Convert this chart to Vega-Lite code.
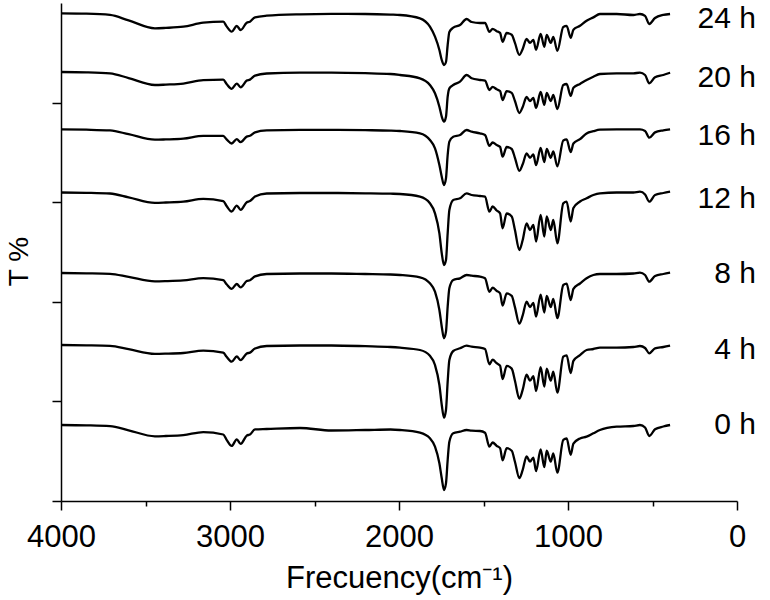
{
"$schema": "https://vega.github.io/schema/vega-lite/v6.json",
"width": 676, "height": 498,
"autosize": {"type": "none"},
"padding": {"left": 61, "top": 3, "right": 33, "bottom": 99},
"background": "white",
"config": {"view": {"stroke": null}, "font": "Liberation Sans",
 "axis": {"domainColor": "black", "tickColor": "black", "labelColor": "black", "titleColor": "black", "domainWidth": 1.5, "tickWidth": 1.5, "grid": false}},
"datasets": {
"spectra": [
{"s":"24 h","w":4000,"T":487.6},{"s":"24 h","w":3850,"T":487.3},{"s":"24 h","w":3710,"T":486.1},{"s":"24 h","w":3600,"T":480.6},{"s":"24 h","w":3444,"T":472.7},{"s":"24 h","w":3380,"T":473.1},{"s":"24 h","w":3276,"T":474.3},{"s":"24 h","w":3158,"T":478.3},{"s":"24 h","w":3040,"T":479.3},{"s":"24 h","w":3020,"T":474.6},{"s":"24 h","w":2990,"T":469.3},{"s":"24 h","w":2960,"T":475.0},{"s":"24 h","w":2937,"T":471.0},{"s":"24 h","w":2901,"T":478.3},{"s":"24 h","w":2882,"T":479.3},{"s":"24 h","w":2852,"T":483.7},{"s":"24 h","w":2783,"T":485.3},{"s":"24 h","w":2586,"T":486.7},{"s":"24 h","w":2400,"T":487.1},{"s":"24 h","w":2200,"T":487.0},{"s":"24 h","w":2050,"T":486.4},{"s":"24 h","w":1994,"T":486.0},{"s":"24 h","w":1876,"T":482.7},{"s":"24 h","w":1817,"T":474.3},{"s":"24 h","w":1787,"T":464.3},{"s":"24 h","w":1761,"T":451.0},{"s":"24 h","w":1747,"T":441.0},{"s":"24 h","w":1734,"T":436.0},{"s":"24 h","w":1722,"T":439.0},{"s":"24 h","w":1712,"T":456.0},{"s":"24 h","w":1702,"T":469.0},{"s":"24 h","w":1679,"T":473.3},{"s":"24 h","w":1639,"T":476.0},{"s":"24 h","w":1600,"T":482.0},{"s":"24 h","w":1570,"T":479.0},{"s":"24 h","w":1521,"T":478.0},{"s":"24 h","w":1491,"T":478.0},{"s":"24 h","w":1465,"T":469.1},{"s":"24 h","w":1446,"T":472.2},{"s":"24 h","w":1422,"T":469.8},{"s":"24 h","w":1402,"T":468.1},{"s":"24 h","w":1387,"T":459.1},{"s":"24 h","w":1363,"T":468.0},{"s":"24 h","w":1333,"T":466.2},{"s":"24 h","w":1314,"T":458.1},{"s":"24 h","w":1288,"T":446.1},{"s":"24 h","w":1268,"T":452.1},{"s":"24 h","w":1245,"T":462.1},{"s":"24 h","w":1225,"T":458.1},{"s":"24 h","w":1205,"T":461.1},{"s":"24 h","w":1189,"T":451.2},{"s":"24 h","w":1162,"T":467.1},{"s":"24 h","w":1140,"T":454.2},{"s":"24 h","w":1126,"T":466.2},{"s":"24 h","w":1102,"T":458.1},{"s":"24 h","w":1087,"T":464.1},{"s":"24 h","w":1063,"T":450.1},{"s":"24 h","w":1028,"T":474.1},{"s":"24 h","w":1008,"T":475.1},{"s":"24 h","w":984,"T":463.2},{"s":"24 h","w":968,"T":471.3},{"s":"24 h","w":929,"T":475.2},{"s":"24 h","w":890,"T":480.3},{"s":"24 h","w":850,"T":483.6},{"s":"24 h","w":811,"T":487.0},{"s":"24 h","w":712,"T":487.0},{"s":"24 h","w":613,"T":486.0},{"s":"24 h","w":574,"T":487.0},{"s":"24 h","w":544,"T":485.1},{"s":"24 h","w":519,"T":477.0},{"s":"24 h","w":485,"T":483.0},{"s":"24 h","w":436,"T":486.1},{"s":"24 h","w":396,"T":487.0},
{"s":"20 h","w":4000,"T":429.0},{"s":"20 h","w":3850,"T":428.7},{"s":"20 h","w":3710,"T":427.7},{"s":"20 h","w":3600,"T":422.9},{"s":"20 h","w":3444,"T":416.0},{"s":"20 h","w":3380,"T":416.4},{"s":"20 h","w":3276,"T":417.4},{"s":"20 h","w":3158,"T":420.9},{"s":"20 h","w":3040,"T":421.4},{"s":"20 h","w":3020,"T":417.0},{"s":"20 h","w":2990,"T":412.2},{"s":"20 h","w":2960,"T":417.4},{"s":"20 h","w":2937,"T":413.7},{"s":"20 h","w":2901,"T":420.4},{"s":"20 h","w":2882,"T":421.4},{"s":"20 h","w":2852,"T":425.4},{"s":"20 h","w":2783,"T":427.5},{"s":"20 h","w":2586,"T":428.3},{"s":"20 h","w":2400,"T":428.3},{"s":"20 h","w":2200,"T":427.8},{"s":"20 h","w":2050,"T":427.0},{"s":"20 h","w":1994,"T":426.0},{"s":"20 h","w":1876,"T":422.7},{"s":"20 h","w":1817,"T":416.0},{"s":"20 h","w":1787,"T":407.7},{"s":"20 h","w":1761,"T":394.3},{"s":"20 h","w":1747,"T":384.3},{"s":"20 h","w":1734,"T":379.3},{"s":"20 h","w":1722,"T":384.3},{"s":"20 h","w":1712,"T":404.3},{"s":"20 h","w":1702,"T":412.7},{"s":"20 h","w":1679,"T":416.0},{"s":"20 h","w":1639,"T":419.3},{"s":"20 h","w":1600,"T":426.0},{"s":"20 h","w":1570,"T":422.7},{"s":"20 h","w":1521,"T":421.0},{"s":"20 h","w":1491,"T":420.3},{"s":"20 h","w":1465,"T":411.0},{"s":"20 h","w":1446,"T":414.1},{"s":"20 h","w":1422,"T":411.7},{"s":"20 h","w":1402,"T":410.0},{"s":"20 h","w":1387,"T":401.0},{"s":"20 h","w":1363,"T":409.9},{"s":"20 h","w":1333,"T":408.1},{"s":"20 h","w":1314,"T":400.0},{"s":"20 h","w":1288,"T":388.0},{"s":"20 h","w":1268,"T":394.0},{"s":"20 h","w":1245,"T":404.0},{"s":"20 h","w":1225,"T":400.0},{"s":"20 h","w":1205,"T":403.0},{"s":"20 h","w":1189,"T":393.1},{"s":"20 h","w":1162,"T":409.0},{"s":"20 h","w":1140,"T":396.1},{"s":"20 h","w":1126,"T":408.1},{"s":"20 h","w":1102,"T":400.0},{"s":"20 h","w":1087,"T":406.0},{"s":"20 h","w":1063,"T":392.0},{"s":"20 h","w":1028,"T":416.0},{"s":"20 h","w":1008,"T":417.0},{"s":"20 h","w":984,"T":405.1},{"s":"20 h","w":968,"T":413.2},{"s":"20 h","w":929,"T":417.1},{"s":"20 h","w":890,"T":421.0},{"s":"20 h","w":850,"T":424.3},{"s":"20 h","w":811,"T":427.0},{"s":"20 h","w":712,"T":427.7},{"s":"20 h","w":613,"T":427.7},{"s":"20 h","w":574,"T":428.3},{"s":"20 h","w":544,"T":426.0},{"s":"20 h","w":519,"T":417.7},{"s":"20 h","w":485,"T":423.7},{"s":"20 h","w":436,"T":426.0},{"s":"20 h","w":396,"T":428.3},
{"s":"16 h","w":4000,"T":371.6},{"s":"16 h","w":3850,"T":371.3},{"s":"16 h","w":3710,"T":370.6},{"s":"16 h","w":3600,"T":366.8},{"s":"16 h","w":3444,"T":361.3},{"s":"16 h","w":3380,"T":361.6},{"s":"16 h","w":3276,"T":362.4},{"s":"16 h","w":3158,"T":365.2},{"s":"16 h","w":3040,"T":365.2},{"s":"16 h","w":3020,"T":361.6},{"s":"16 h","w":2990,"T":357.5},{"s":"16 h","w":2960,"T":361.9},{"s":"16 h","w":2937,"T":358.8},{"s":"16 h","w":2901,"T":364.4},{"s":"16 h","w":2882,"T":365.2},{"s":"16 h","w":2852,"T":368.6},{"s":"16 h","w":2783,"T":370.6},{"s":"16 h","w":2586,"T":371.1},{"s":"16 h","w":2400,"T":371.1},{"s":"16 h","w":2200,"T":370.8},{"s":"16 h","w":2050,"T":370.4},{"s":"16 h","w":1994,"T":370.0},{"s":"16 h","w":1876,"T":367.7},{"s":"16 h","w":1817,"T":361.0},{"s":"16 h","w":1787,"T":352.7},{"s":"16 h","w":1761,"T":336.0},{"s":"16 h","w":1747,"T":324.3},{"s":"16 h","w":1734,"T":316.0},{"s":"16 h","w":1722,"T":322.7},{"s":"16 h","w":1712,"T":346.0},{"s":"16 h","w":1702,"T":359.3},{"s":"16 h","w":1679,"T":364.3},{"s":"16 h","w":1639,"T":366.0},{"s":"16 h","w":1600,"T":371.0},{"s":"16 h","w":1570,"T":369.3},{"s":"16 h","w":1521,"T":367.7},{"s":"16 h","w":1491,"T":366.0},{"s":"16 h","w":1465,"T":355.1},{"s":"16 h","w":1446,"T":358.5},{"s":"16 h","w":1422,"T":355.9},{"s":"16 h","w":1402,"T":354.1},{"s":"16 h","w":1387,"T":344.3},{"s":"16 h","w":1363,"T":354.0},{"s":"16 h","w":1333,"T":352.0},{"s":"16 h","w":1314,"T":343.2},{"s":"16 h","w":1288,"T":330.2},{"s":"16 h","w":1268,"T":336.7},{"s":"16 h","w":1245,"T":347.6},{"s":"16 h","w":1225,"T":343.2},{"s":"16 h","w":1205,"T":346.5},{"s":"16 h","w":1189,"T":335.8},{"s":"16 h","w":1162,"T":353.0},{"s":"16 h","w":1140,"T":339.0},{"s":"16 h","w":1126,"T":352.0},{"s":"16 h","w":1102,"T":343.2},{"s":"16 h","w":1087,"T":349.7},{"s":"16 h","w":1063,"T":334.6},{"s":"16 h","w":1028,"T":360.6},{"s":"16 h","w":1008,"T":361.6},{"s":"16 h","w":984,"T":348.8},{"s":"16 h","w":968,"T":357.5},{"s":"16 h","w":929,"T":361.8},{"s":"16 h","w":890,"T":367.6},{"s":"16 h","w":850,"T":369.8},{"s":"16 h","w":811,"T":371.3},{"s":"16 h","w":712,"T":371.6},{"s":"16 h","w":613,"T":371.6},{"s":"16 h","w":574,"T":371.6},{"s":"16 h","w":544,"T":370.1},{"s":"16 h","w":519,"T":363.3},{"s":"16 h","w":485,"T":368.6},{"s":"16 h","w":436,"T":370.6},{"s":"16 h","w":396,"T":371.6},
{"s":"12 h","w":4000,"T":308.5},{"s":"12 h","w":3850,"T":308.2},{"s":"12 h","w":3710,"T":307.5},{"s":"12 h","w":3600,"T":303.7},{"s":"12 h","w":3444,"T":298.2},{"s":"12 h","w":3380,"T":298.5},{"s":"12 h","w":3276,"T":299.3},{"s":"12 h","w":3158,"T":302.1},{"s":"12 h","w":3040,"T":299.9},{"s":"12 h","w":3020,"T":295.0},{"s":"12 h","w":2990,"T":289.5},{"s":"12 h","w":2960,"T":295.4},{"s":"12 h","w":2937,"T":291.2},{"s":"12 h","w":2901,"T":298.8},{"s":"12 h","w":2882,"T":299.9},{"s":"12 h","w":2852,"T":304.4},{"s":"12 h","w":2783,"T":307.5},{"s":"12 h","w":2586,"T":308.0},{"s":"12 h","w":2400,"T":308.0},{"s":"12 h","w":2200,"T":307.7},{"s":"12 h","w":2050,"T":307.3},{"s":"12 h","w":1994,"T":307.0},{"s":"12 h","w":1876,"T":304.3},{"s":"12 h","w":1817,"T":297.7},{"s":"12 h","w":1787,"T":287.7},{"s":"12 h","w":1761,"T":267.7},{"s":"12 h","w":1747,"T":247.7},{"s":"12 h","w":1734,"T":236.0},{"s":"12 h","w":1722,"T":241.0},{"s":"12 h","w":1712,"T":267.7},{"s":"12 h","w":1702,"T":291.0},{"s":"12 h","w":1679,"T":301.0},{"s":"12 h","w":1639,"T":302.7},{"s":"12 h","w":1600,"T":307.7},{"s":"12 h","w":1570,"T":306.0},{"s":"12 h","w":1521,"T":305.0},{"s":"12 h","w":1491,"T":304.3},{"s":"12 h","w":1465,"T":289.3},{"s":"12 h","w":1446,"T":294.5},{"s":"12 h","w":1422,"T":290.5},{"s":"12 h","w":1402,"T":287.7},{"s":"12 h","w":1387,"T":272.7},{"s":"12 h","w":1363,"T":287.5},{"s":"12 h","w":1333,"T":284.5},{"s":"12 h","w":1314,"T":271.0},{"s":"12 h","w":1288,"T":251.0},{"s":"12 h","w":1268,"T":261.0},{"s":"12 h","w":1245,"T":277.7},{"s":"12 h","w":1225,"T":271.0},{"s":"12 h","w":1205,"T":276.0},{"s":"12 h","w":1189,"T":259.5},{"s":"12 h","w":1162,"T":286.0},{"s":"12 h","w":1140,"T":264.5},{"s":"12 h","w":1126,"T":284.5},{"s":"12 h","w":1102,"T":271.0},{"s":"12 h","w":1087,"T":281.0},{"s":"12 h","w":1063,"T":257.7},{"s":"12 h","w":1028,"T":297.7},{"s":"12 h","w":1008,"T":299.3},{"s":"12 h","w":984,"T":279.5},{"s":"12 h","w":968,"T":293.0},{"s":"12 h","w":929,"T":299.5},{"s":"12 h","w":890,"T":302.7},{"s":"12 h","w":850,"T":306.0},{"s":"12 h","w":811,"T":307.7},{"s":"12 h","w":712,"T":308.5},{"s":"12 h","w":613,"T":308.5},{"s":"12 h","w":574,"T":309.3},{"s":"12 h","w":544,"T":306.5},{"s":"12 h","w":519,"T":299.3},{"s":"12 h","w":485,"T":306.0},{"s":"12 h","w":436,"T":308.0},{"s":"12 h","w":396,"T":309.3},
{"s":"8 h","w":4000,"T":228.0},{"s":"8 h","w":3850,"T":227.7},{"s":"8 h","w":3710,"T":227.2},{"s":"8 h","w":3600,"T":224.1},{"s":"8 h","w":3444,"T":219.7},{"s":"8 h","w":3380,"T":219.9},{"s":"8 h","w":3276,"T":220.6},{"s":"8 h","w":3158,"T":222.8},{"s":"8 h","w":3040,"T":220.8},{"s":"8 h","w":3020,"T":216.7},{"s":"8 h","w":2990,"T":212.1},{"s":"8 h","w":2960,"T":217.0},{"s":"8 h","w":2937,"T":213.6},{"s":"8 h","w":2901,"T":219.9},{"s":"8 h","w":2882,"T":220.8},{"s":"8 h","w":2852,"T":224.6},{"s":"8 h","w":2783,"T":227.0},{"s":"8 h","w":2586,"T":227.5},{"s":"8 h","w":2400,"T":227.5},{"s":"8 h","w":2200,"T":227.0},{"s":"8 h","w":2050,"T":226.5},{"s":"8 h","w":1994,"T":226.0},{"s":"8 h","w":1876,"T":223.7},{"s":"8 h","w":1817,"T":217.7},{"s":"8 h","w":1787,"T":209.3},{"s":"8 h","w":1761,"T":191.0},{"s":"8 h","w":1747,"T":174.3},{"s":"8 h","w":1734,"T":162.7},{"s":"8 h","w":1722,"T":169.3},{"s":"8 h","w":1712,"T":194.3},{"s":"8 h","w":1702,"T":212.7},{"s":"8 h","w":1679,"T":221.0},{"s":"8 h","w":1639,"T":222.7},{"s":"8 h","w":1600,"T":226.0},{"s":"8 h","w":1570,"T":225.3},{"s":"8 h","w":1521,"T":224.3},{"s":"8 h","w":1491,"T":222.7},{"s":"8 h","w":1465,"T":209.1},{"s":"8 h","w":1446,"T":213.4},{"s":"8 h","w":1422,"T":210.1},{"s":"8 h","w":1402,"T":207.7},{"s":"8 h","w":1387,"T":195.3},{"s":"8 h","w":1363,"T":207.6},{"s":"8 h","w":1333,"T":205.1},{"s":"8 h","w":1314,"T":193.9},{"s":"8 h","w":1288,"T":177.3},{"s":"8 h","w":1268,"T":185.6},{"s":"8 h","w":1245,"T":199.4},{"s":"8 h","w":1225,"T":193.9},{"s":"8 h","w":1205,"T":198.0},{"s":"8 h","w":1189,"T":184.3},{"s":"8 h","w":1162,"T":206.3},{"s":"8 h","w":1140,"T":188.5},{"s":"8 h","w":1126,"T":205.1},{"s":"8 h","w":1102,"T":193.9},{"s":"8 h","w":1087,"T":202.2},{"s":"8 h","w":1063,"T":182.8},{"s":"8 h","w":1028,"T":216.0},{"s":"8 h","w":1008,"T":217.4},{"s":"8 h","w":984,"T":200.9},{"s":"8 h","w":968,"T":212.1},{"s":"8 h","w":929,"T":217.5},{"s":"8 h","w":890,"T":222.7},{"s":"8 h","w":850,"T":226.0},{"s":"8 h","w":811,"T":227.0},{"s":"8 h","w":712,"T":227.0},{"s":"8 h","w":613,"T":227.5},{"s":"8 h","w":574,"T":228.3},{"s":"8 h","w":544,"T":226.0},{"s":"8 h","w":519,"T":219.3},{"s":"8 h","w":485,"T":225.0},{"s":"8 h","w":436,"T":227.0},{"s":"8 h","w":396,"T":228.3},
{"s":"4 h","w":4000,"T":156.0},{"s":"4 h","w":3850,"T":155.7},{"s":"4 h","w":3710,"T":155.1},{"s":"4 h","w":3600,"T":151.8},{"s":"4 h","w":3444,"T":147.1},{"s":"4 h","w":3380,"T":147.3},{"s":"4 h","w":3276,"T":148.0},{"s":"4 h","w":3158,"T":150.4},{"s":"4 h","w":3040,"T":148.4},{"s":"4 h","w":3020,"T":144.2},{"s":"4 h","w":2990,"T":139.3},{"s":"4 h","w":2960,"T":144.5},{"s":"4 h","w":2937,"T":140.9},{"s":"4 h","w":2901,"T":147.5},{"s":"4 h","w":2882,"T":148.4},{"s":"4 h","w":2852,"T":152.5},{"s":"4 h","w":2783,"T":155.0},{"s":"4 h","w":2586,"T":155.5},{"s":"4 h","w":2400,"T":155.5},{"s":"4 h","w":2200,"T":154.8},{"s":"4 h","w":2050,"T":154.0},{"s":"4 h","w":1994,"T":153.3},{"s":"4 h","w":1876,"T":151.0},{"s":"4 h","w":1817,"T":145.3},{"s":"4 h","w":1787,"T":136.0},{"s":"4 h","w":1761,"T":116.0},{"s":"4 h","w":1747,"T":96.0},{"s":"4 h","w":1734,"T":83.3},{"s":"4 h","w":1722,"T":91.0},{"s":"4 h","w":1712,"T":119.3},{"s":"4 h","w":1702,"T":141.0},{"s":"4 h","w":1679,"T":150.0},{"s":"4 h","w":1639,"T":152.7},{"s":"4 h","w":1600,"T":155.3},{"s":"4 h","w":1570,"T":154.3},{"s":"4 h","w":1521,"T":153.3},{"s":"4 h","w":1491,"T":152.0},{"s":"4 h","w":1465,"T":136.7},{"s":"4 h","w":1446,"T":141.4},{"s":"4 h","w":1422,"T":137.8},{"s":"4 h","w":1402,"T":135.3},{"s":"4 h","w":1387,"T":121.8},{"s":"4 h","w":1363,"T":135.1},{"s":"4 h","w":1333,"T":132.4},{"s":"4 h","w":1314,"T":120.3},{"s":"4 h","w":1288,"T":102.3},{"s":"4 h","w":1268,"T":111.3},{"s":"4 h","w":1245,"T":126.3},{"s":"4 h","w":1225,"T":120.3},{"s":"4 h","w":1205,"T":124.8},{"s":"4 h","w":1189,"T":109.9},{"s":"4 h","w":1162,"T":133.8},{"s":"4 h","w":1140,"T":114.4},{"s":"4 h","w":1126,"T":132.4},{"s":"4 h","w":1102,"T":120.3},{"s":"4 h","w":1087,"T":129.3},{"s":"4 h","w":1063,"T":108.3},{"s":"4 h","w":1028,"T":144.3},{"s":"4 h","w":1008,"T":145.7},{"s":"4 h","w":984,"T":127.9},{"s":"4 h","w":968,"T":140.1},{"s":"4 h","w":929,"T":145.9},{"s":"4 h","w":890,"T":151.0},{"s":"4 h","w":850,"T":152.0},{"s":"4 h","w":811,"T":153.3},{"s":"4 h","w":712,"T":153.3},{"s":"4 h","w":613,"T":154.0},{"s":"4 h","w":574,"T":155.0},{"s":"4 h","w":544,"T":153.0},{"s":"4 h","w":519,"T":147.7},{"s":"4 h","w":485,"T":152.7},{"s":"4 h","w":436,"T":154.0},{"s":"4 h","w":396,"T":155.3},
{"s":"0 h","w":4000,"T":76.0},{"s":"0 h","w":3850,"T":75.7},{"s":"0 h","w":3710,"T":74.9},{"s":"0 h","w":3600,"T":70.7},{"s":"0 h","w":3444,"T":64.7},{"s":"0 h","w":3380,"T":65.0},{"s":"0 h","w":3276,"T":65.9},{"s":"0 h","w":3158,"T":68.9},{"s":"0 h","w":3040,"T":66.5},{"s":"0 h","w":3020,"T":61.2},{"s":"0 h","w":2990,"T":55.1},{"s":"0 h","w":2960,"T":61.6},{"s":"0 h","w":2937,"T":57.1},{"s":"0 h","w":2901,"T":65.4},{"s":"0 h","w":2882,"T":66.5},{"s":"0 h","w":2852,"T":71.6},{"s":"0 h","w":2783,"T":72.0},{"s":"0 h","w":2586,"T":73.0},{"s":"0 h","w":2400,"T":70.5},{"s":"0 h","w":2200,"T":71.0},{"s":"0 h","w":2050,"T":71.5},{"s":"0 h","w":1994,"T":71.0},{"s":"0 h","w":1876,"T":68.3},{"s":"0 h","w":1817,"T":62.7},{"s":"0 h","w":1787,"T":54.3},{"s":"0 h","w":1761,"T":37.7},{"s":"0 h","w":1747,"T":22.7},{"s":"0 h","w":1734,"T":11.0},{"s":"0 h","w":1722,"T":17.7},{"s":"0 h","w":1712,"T":41.0},{"s":"0 h","w":1702,"T":59.3},{"s":"0 h","w":1679,"T":67.7},{"s":"0 h","w":1639,"T":69.3},{"s":"0 h","w":1600,"T":71.0},{"s":"0 h","w":1570,"T":70.3},{"s":"0 h","w":1521,"T":70.0},{"s":"0 h","w":1491,"T":68.3},{"s":"0 h","w":1465,"T":54.3},{"s":"0 h","w":1446,"T":58.5},{"s":"0 h","w":1422,"T":55.2},{"s":"0 h","w":1402,"T":52.9},{"s":"0 h","w":1387,"T":40.6},{"s":"0 h","w":1363,"T":52.8},{"s":"0 h","w":1333,"T":50.3},{"s":"0 h","w":1314,"T":39.3},{"s":"0 h","w":1288,"T":22.9},{"s":"0 h","w":1268,"T":31.1},{"s":"0 h","w":1245,"T":44.7},{"s":"0 h","w":1225,"T":39.3},{"s":"0 h","w":1205,"T":43.4},{"s":"0 h","w":1189,"T":29.8},{"s":"0 h","w":1162,"T":51.6},{"s":"0 h","w":1140,"T":33.9},{"s":"0 h","w":1126,"T":50.3},{"s":"0 h","w":1102,"T":39.3},{"s":"0 h","w":1087,"T":47.5},{"s":"0 h","w":1063,"T":28.3},{"s":"0 h","w":1028,"T":61.1},{"s":"0 h","w":1008,"T":62.5},{"s":"0 h","w":984,"T":46.2},{"s":"0 h","w":968,"T":57.3},{"s":"0 h","w":929,"T":62.6},{"s":"0 h","w":890,"T":64.3},{"s":"0 h","w":850,"T":67.7},{"s":"0 h","w":811,"T":71.0},{"s":"0 h","w":712,"T":74.3},{"s":"0 h","w":613,"T":75.0},{"s":"0 h","w":574,"T":76.0},{"s":"0 h","w":544,"T":73.5},{"s":"0 h","w":519,"T":65.0},{"s":"0 h","w":485,"T":71.7},{"s":"0 h","w":436,"T":74.5},{"s":"0 h","w":396,"T":76.0}
],
"labels": [
{"label":"24 h","w":-112,"T":482},{"label":"20 h","w":-112,"T":423},{"label":"16 h","w":-112,"T":365},{"label":"12 h","w":-112,"T":302},{"label":"8 h","w":-112,"T":227},{"label":"4 h","w":-112,"T":151},{"label":"0 h","w":-112,"T":76}
]
},
"layer": [
{"data": {"name": "spectra"},
 "mark": {"type": "line", "color": "black", "strokeWidth": 2.3, "interpolate": "monotone"},
 "encoding": {
  "x": {"field": "w", "type": "quantitative",
   "scale": {"domain": [0, 4000], "reverse": true, "nice": false},
   "axis": {"values": [4000,3500,3000,2500,2000,1500,1000,500,0], "format": "d",
    "labelExpr": "datum.value % 1000 === 0 ? datum.label : ''",
    "tickSize": {"condition": {"test": "datum.value % 1000 === 0", "value": 9}, "value": 5},
    "labelFontSize": 31, "labelPadding": 12, "labelOverlap": false, "labelFlush": false,
    "title": "Frecuency(cm⁻¹)", "titleFontSize": 31, "titleFontWeight": "normal", "titlePadding": 11}},
  "y": {"field": "T", "type": "quantitative",
   "scale": {"domain": [0, 498], "nice": false, "zero": false},
   "axis": {"values": [0, 99.6, 199.2, 298.8, 398.4], "labels": false, "tickSize": 9,
    "title": "T %", "titleFontSize": 28, "titleFontWeight": "normal", "titleAngle": 270,
    "titleBaseline": "alphabetic", "titleAlign": "center", "titleX": -34, "titleY": 258}},
  "detail": {"field": "s"}
 }},
{"data": {"name": "labels"},
 "mark": {"type": "text", "align": "right", "baseline": "middle", "fontSize": 30, "color": "black"},
 "encoding": {
  "x": {"field": "w", "type": "quantitative"},
  "y": {"field": "T", "type": "quantitative"},
  "text": {"field": "label"}
 }}
]
}
